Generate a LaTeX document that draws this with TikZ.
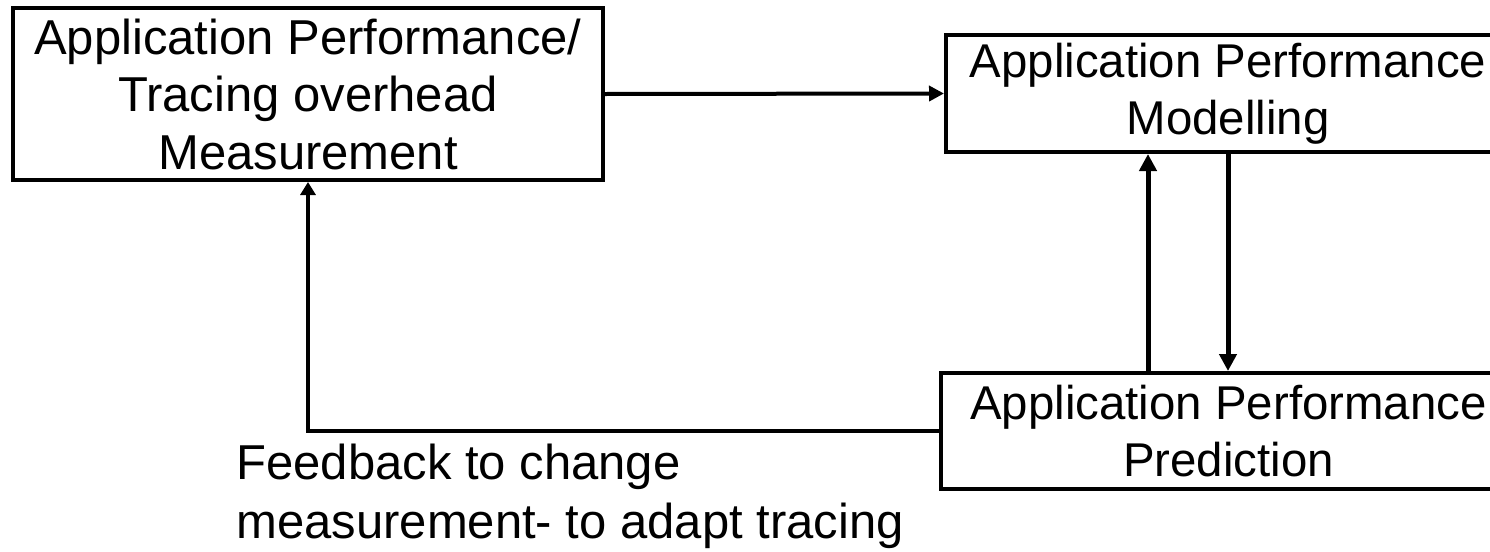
\documentclass[tikz,border=0pt]{standalone}
\usepackage{fontspec}
\setmainfont{Liberation Sans}
\usetikzlibrary{arrows.meta}
\begin{document}
\begin{tikzpicture}[x=1pt,y=1pt,
  box/.style={draw,line width=2pt,align=center,inner sep=0pt,
    font=\fontsize{24.5}{28.75}\selectfont},
  side box/.style={box,font=\fontsize{23.7}{28.75}\selectfont},
  label text/.style={align=left,inner sep=0pt,
    font=\fontsize{24.5}{29.5}\selectfont},
  flow/.style={line width=2pt,-{Triangle[length=7.5pt,width=7.5pt]}},
  vflow/.style={line width=2.5pt,-{Triangle[length=8.5pt,width=8.5pt]}},
  back/.style={line width=2pt,-{Triangle[length=6.5pt,width=7.5pt]}}]
\useasboundingbox (0,0) rectangle (745,-276);
\clip (0,0) rectangle (745,-276);

% boxes
\node[box,minimum width=295pt,minimum height=86pt] (meas) at (154,-47)
  {Application Performance/\\Tracing overhead\\Measurement};
\node[side box,minimum width=282pt,minimum height=58.5pt] (model) at (614,-46.75)
  {Application Performance\\Modelling};
\node[side box,minimum width=287.5pt,minimum height=58pt] (pred) at (614.25,-215.5)
  {Application Performance\\Prediction};

% feedback caption (anchored on its last baseline)
\node[label text,anchor=base west] (fb) at (118,-269)
  {Feedback to change\\measurement- to adapt tracing};

% x positions of the two vertical links
\coordinate (upx) at (574,0);
\coordinate (downx) at (614,0);

% connectors
\draw[flow] (meas.east) -- (model.west);
\draw[vflow] (pred.north -| upx) -- (model.south -| upx);
\draw[vflow] (model.south -| downx) -- (pred.north -| downx);
\draw[back] (pred.west) -| (meas.south);
\end{tikzpicture}
\end{document}
